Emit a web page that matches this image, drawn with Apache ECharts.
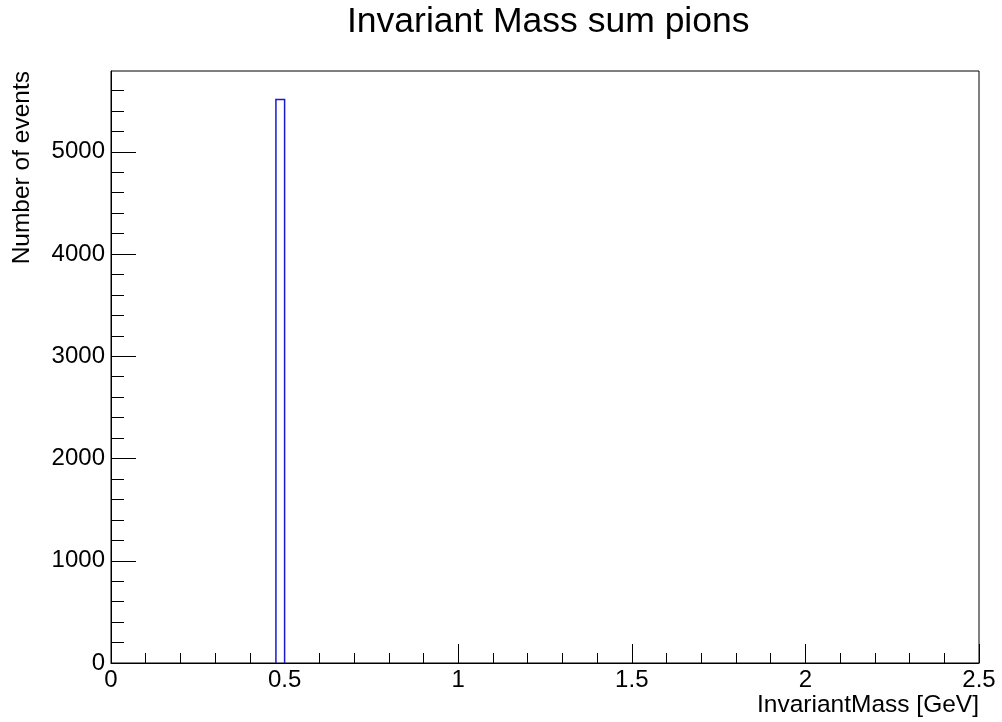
<!DOCTYPE html>
<html>
<head>
<meta charset="utf-8">
<script src="https://cdn.jsdelivr.net/npm/echarts@6/dist/echarts.min.js"></script>
<style>
    html, body {margin: 0; padding: 0; background: #fff;}
    #chart {width: 1002px; height: 722px;}
</style>
</head>
<body>
<div id="chart"></div>
<script>
// histogram bins that are not empty (bin width 0.025 GeV, 100 bins on 0..2.5)
const binLow = [0.475];
const binHigh = [0.5];
const binCounts = [5512];

const xMin = 0;
const xMax = 2.5;
const yMax = 5790;
const yMajorTicks = [0, 1000, 2000, 3000, 4000, 5000];
const yMinorTicks = [200, 400, 600, 800, 1200, 1400, 1600, 1800, 2200, 2400, 2600, 2800,
    3200, 3400, 3600, 3800, 4200, 4400, 4600, 4800, 5200, 5400, 5600];

const font = 'Liberation Sans, Arial, Helvetica, sans-serif';

let myChart = echarts.init(document.getElementById('chart'));

let histData = binLow.map((lo, i) => [lo, binHigh[i], binCounts[i]]);

let option = {
    backgroundColor: '#fff',
    animation: false,
    title: {
        text: 'Invariant Mass sum pions',
        left: 342,
        top: -1,
        textStyle: {
            fontFamily: font,
            fontWeight: 'normal',
            fontSize: 35.5,
            color: '#000'
        }
    },
    grid: {
        left: 111,
        right: 23,
        top: 71,
        bottom: 59,
        show: true,
        borderColor: '#000',
        borderWidth: 1
    },
    graphic: [{
        type: 'text',
        x: 979,
        y: 705,
        style: {
            text: 'InvariantMass [GeV]',
            fontFamily: font,
            fontSize: 24.5,
            fill: '#000',
            align: 'right',
            verticalAlign: 'middle'
        }
    }, {
        type: 'text',
        x: 22,
        y: 71,
        rotation: Math.PI / 2,
        style: {
            text: 'Number of events',
            fontFamily: font,
            fontSize: 24.5,
            fill: '#000',
            align: 'right',
            verticalAlign: 'middle'
        }
    }],
    xAxis: {
        type: 'value',
        min: xMin,
        max: xMax,
        interval: 0.5,
        splitLine: {show: false},
        axisLine: {show: true, onZero: false, lineStyle: {color: '#000', width: 1}},
        axisTick: {show: true, inside: true, length: 19, lineStyle: {color: '#000', width: 1}},
        minorTick: {show: true, splitNumber: 5, length: 10, lineStyle: {color: '#000', width: 1}},
        axisLabel: {
            margin: 5,
            fontFamily: font,
            fontSize: 24,
            color: '#000',
            showMinLabel: true,
            showMaxLabel: true,
            formatter: v => String(v)
        }
    },
    yAxis: [{
        type: 'value',
        position: 'left',
        min: 0,
        max: yMax,
        splitLine: {show: false},
        axisLine: {show: true, onZero: false, lineStyle: {color: '#000', width: 1}},
        axisTick: {
            show: true, inside: true, length: 25,
            customValues: yMajorTicks,
            lineStyle: {color: '#000', width: 1}
        },
        axisLabel: {
            margin: 6,
            fontFamily: font,
            fontSize: 24,
            color: '#000',
            customValues: yMajorTicks,
            formatter: v => String(v)
        }
    }, {
        type: 'value',
        position: 'left',
        min: 0,
        max: yMax,
        splitLine: {show: false},
        axisLine: {show: false},
        axisLabel: {show: false},
        axisTick: {
            show: true, inside: true, length: 13,
            customValues: yMinorTicks,
            lineStyle: {color: '#000', width: 1}
        }
    }],
    series: [{
        type: 'custom',
        coordinateSystem: 'cartesian2d',
        yAxisIndex: 0,
        data: histData,
        encode: {x: [0, 1], y: 2},
        renderItem: function (params, api) {
            let a = api.coord([api.value(0), 0]);
            let b = api.coord([api.value(1), api.value(2)]);
            return {
                type: 'polyline',
                shape: {points: [[a[0], a[1]], [a[0], b[1]], [b[0], b[1]], [b[0], a[1]]]},
                style: {fill: null, stroke: '#1a1acc', lineWidth: 1.5}
            };
        }
    }]
};
option && myChart.setOption(option);
</script>
</body>
</html>
